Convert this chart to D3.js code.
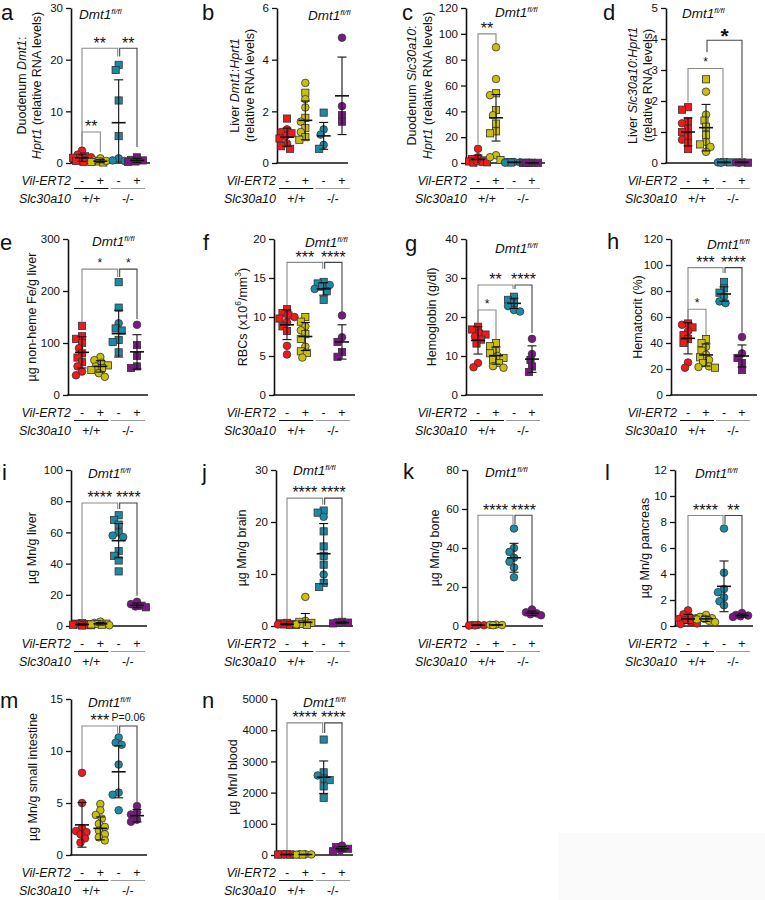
<!DOCTYPE html>
<html><head><meta charset="utf-8">
<script src="https://cdn.jsdelivr.net/npm/d3@7"></script>
<style>
body{margin:0;background:#fff}
svg{display:block}
text{font-family:"Liberation Sans",Arial,Helvetica,sans-serif;fill:#111}
</style>
</head><body>
<svg id="fig" width="765" height="900"></svg>
<script>
// ---------- shared categories ----------
const groups = ["Slc+/+ Vil-", "Slc+/+ Vil+", "Slc-/- Vil-", "Slc-/- Vil+"];
const vilLabels = ["-", "+", "-", "+"];
const slcLabels = ["+/+", "-/-"];

// ---------- data (values, shapes c=circle s=square, mean, SD, brackets [from,to,top,dropFrom,dropTo,label]) ----------
const aVals = [[2.4,1.6,1.3,1.0,0.8,0.6,0.4,0.2,1.1],[0.9,0.5,0.3,0.2,0.1,0.4],[19.0,18.0,12.1,5.2,0.9,0.5,0.4],[1.1,0.6,0.3,0.2,0.5]];
const aShp = ["ccsscsssc","ccsssc","ssssccc","sssss"];
const aMean = [1.0,0.35,7.8,0.5], aSD = [0.7,0.3,8.3,0.4];
const aBr = [[0,1,6.0,3.1,2.1,"**"],[0,2,22.2,3.5,20.6,"**"],[2,3,22.2,20.6,3.1,"**"]];

const bVals = [[1.72,1.3,1.2,1.05,0.95,0.75,0.65,0.55,1.15],[3.1,2.72,2.47,2.15,1.75,1.6,1.35,1.2,1.0,0.9],[1.95,1.3,1.1,0.7,0.55],[4.85,2.2,1.85,1.6]];
const bShp = ["scccscsss","csccscscss","scccs","ccss"];
const bMean = [1.0,1.65,1.05,2.6], bSD = [0.35,0.75,0.52,1.5];
const bBr = [];

const cVals = [[11,4.5,3,2,1.2,0.8,0.5,0.3,1.5],[89.6,65,54,52.5,41,37,30.5,24.5,23,6,4.5,2.3],[0.8,0.6,0.5,0.4,0.3],[0.2,0.15,0.1,0.12,0.2]];
const cShp = ["ccssscssc","ccscscsssccs","cscsc","sssss"];
const cMean = [2.7,35,0.5,0.15], cSD = [3.4,18,0.2,0.05];
const cBr = [[0,1,100,15,90,"**"]];

const dVals = [[1.8,1.72,1.35,1.28,1.1,1.0,0.85,0.75,0.65,0.45],[2.7,2.3,1.56,1.37,1.17,0.9,0.68,0.52,0.36,0.6],[0.03,0.02,0.02,0.01],[0.02,0.02,0.01,0.01]];
const dShp = ["ssscssscss","sccssscccs","scsc","scsc"];
const dMean = [1.0,1.14,0.02,0.02], dSD = [0.45,0.75,0.01,0.01];
const dBr = [[0,2,3.05,1.95,0.16,"*"],[1,3,3.96,3.57,0.16,"*"]];

const eVals = [[133,113,108,100,90,80,72,63,55,45,38],[73,67,62,57,55,52,48,42,35],[217,168,138,128,124,106,102,82],[135,96,75,55,52]];
const eShp = ["sssscsssccc","cccscsscc","sscsssss","cssss"];
const eMean = [82,55,118,83], eSD = [30,11,45,33];
const eBr = [[0,2,242,138,227,"*"],[2,3,242,227,146,"*"]];

const fVals = [[11,10.5,10.2,9.8,9.3,8.8,8.2,6.3,5.2,10],[10,9.4,8.8,8.3,7.8,7.2,6.2,5.6,5.4,4.8],[14.5,14.3,14.1,13.9,13.6,13.3,12.2],[10.2,7.4,6.8,5.5,4.9]];
const fShp = ["sssscssccc","ssccsscssc","sscscss","ccsss"];
const fMean = [9.0,7.5,13.6,6.8], fSD = [1.9,1.8,0.8,2.2];
const fBr = [[0,2,17.0,11.4,16.2,"***"],[2,3,17.0,16.2,10.6,"****"]];

const gVals = [[17.5,16.8,16,15.5,15,14.2,13.2,8.2,7.1],[13.3,12.5,11.5,10.7,10,9.5,9,8.2,7.4,7],[25.2,24.4,23.5,22.8,21.8,21.4],[14.4,10.5,9,7.3,5.9]];
const gShp = ["sscscsscc","sscscssscc","sssccc","ccsss"];
const gMean = [14.0,10.1,23.5,9.2], gSD = [3.5,2.2,1.3,3.4];
const gBr = [[0,1,21.8,18.5,14.1,"*"],[0,2,28.2,18.5,27.2,"**"],[2,3,28.2,27.2,15.9,"****"]];

const hVals = [[55,54,52,49,46,43,40,25,21],[43,40,37,34,31,29,27,24.5,22,21,21.5],[87,82,78.7,75.7,72,70.7],[44.6,32,28.5,24.6,19.2]];
const hShp = ["scscssscc","sscscscscsc","sssccc","ccsss"];
const hMean = [43.6,30.8,77.7,30], hSD = [12,8.5,5.5,8.5];
const hBr = [[0,1,66,57.7,45.4,"*"],[0,2,98,57.7,93.8,"***"],[2,3,98,93.8,48,"****"]];

const iVals = [[1.8,1.5,1.2,1.0,0.8,0.7,0.5,0.3],[2.8,2.0,1.5,1.2,1.0,0.8,0.5],[71,68,65,60,58,57,48,45,42,35],[15.5,14,13,12.5,12]];
const iShp = ["ssssssss","ccssssc","ssssccssss","ccscs"];
const iMean = [1.0,1.4,54.7,13.2], iSD = [0.5,0.8,11,1.5];
const iBr = [[0,2,78.8,4.5,75,"****"],[2,3,78.8,75,19.4,"****"]];

const jVals = [[0.6,0.5,0.4,0.3,0.3,0.2,0.2],[5.6,1.0,0.8,0.6,0.4,0.3,0.2],[22.2,21.8,21,18.2,15.3,13.5,11.8,9.9,8.3,7.5],[0.8,0.7,0.65,0.6,0.5]];
const jShp = ["sssscss","ccssscs","sscsssscss","scsss"];
const jMean = [0.35,0.7,13.9,0.65], jSD = [0.15,1.7,5.8,0.12];
const jBr = [[0,2,24.6,1.0,23.3,"****"],[2,3,24.6,23.3,1.4,"****"]];

const kVals = [[0.6,0.5,0.4,0.3,0.2],[0.7,0.6,0.5,0.4],[50,40,38,35,33,30,25],[8.5,7,6.5,6,5.5]];
const kShp = ["ccccc","cccc","ccccccc","ccccc"];
const kMean = [0.4,0.55,35,6.5], kSD = [0.15,0.12,7.4,1.1];
const kBr = [[0,2,56.8,1.0,52.3,"****"],[2,3,56.8,52.3,10.3,"****"]];

const lVals = [[1.2,0.9,0.7,0.55,0.45,0.3,0.2,0.15,0.6],[0.85,0.7,0.6,0.5,0.4,0.3,0.55],[7.5,4.1,2.85,2.6,2.2,1.9,1.6],[1.0,0.85,0.8,0.75,0.7]];
const lShp = ["ccccccccc","ccccccc","ccccccc","ccccc"];
const lMean = [0.54,0.55,3.05,0.8], lSD = [0.35,0.2,1.95,0.12];
const lBr = [[0,2,8.5,1.3,7.85,"****"],[2,3,8.5,7.85,1.23,"**"]];

const mVals = [[7.9,5.0,2.6,2.3,2.2,2.0,1.6,1.2],[4.9,4.3,3.85,3.5,3.0,2.7,2.35,2.0,1.7,1.4],[11.3,10.8,10.6,8.7,6.0,5.8,4.3],[4.7,4.1,3.9,3.4,3.2]];
const mShp = ["cccccccc","cccccccccc","ccccccc","ccccc"];
const mMean = [2.9,2.56,8.0,3.78], mSD = [2.15,1.1,2.5,0.6];
const mBr = [[0,2,12.4,8.3,11.7,"***"],[2,3,12.4,11.7,5.1,"P=0.06"]];

const nVals = [[25,20,15,10,18,12],[25,20,15,10,18],[3700,2650,2550,2450,2400,2200,1830],[300,250,200,150,120]];
const nShp = ["sscscs","ccscc","sscssss","csscs"];
const nMean = [15,15,2494,200], nSD = [5,5,520,70];
const nBr = [[0,2,4235,75,3913,"****"],[2,3,4235,3913,400,"****"]];

// ---------- axis ranges & ticks ----------
const yMax = {a:30,b:6,c:120,d:5,e:300,f:20,g:40,h:120,i:100,j:30,k:80,l:12,m:15,n:5000};
const yStep = {a:10,b:2,c:20,d:1,e:100,f:5,g:10,h:20,i:20,j:10,k:20,l:2,m:5,n:1000};

// ---------- titles ----------
const titles = {
  a:[[["Duodenum ",""],["Dmt1","i"],[":",""]],[["Hprt1","i"],[" (relative RNA levels)",""]]],
  b:[[["Liver ",""],["Dmt1","i"],[":",""],["Hprt1","i"]],[["(relative RNA levels)",""]]],
  c:[[["Duodenum ",""],["Slc30a10","i"],[":",""]],[["Hprt1","i"],[" (relative RNA levels)",""]]],
  d:[[["Liver ",""],["Slc30a10","i"],[":",""],["Hprt1","i"]],[["(relative RNA levels)",""]]],
  e:[[["µg non-heme Fe/g liver",""]]],
  f:[[["RBCs (x10",""],["6","s"],["/mm",""],["3","s"],[")",""]]],
  g:[[["Hemoglobin (g/dl)",""]]],
  h:[[["Hematocrit (%)",""]]],
  i:[[["µg Mn/g liver",""]]],
  j:[[["µg Mn/g brain",""]]],
  k:[[["µg Mn/g bone",""]]],
  l:[[["µg Mn/g pancreas",""]]],
  m:[[["µg Mn/g small intestine",""]]],
  n:[[["µg Mn/l blood",""]]]
};

// ---------- layout (positions / sizes) ----------
const colCats = [[82,137],[287,342],[478,532],[688,742]];
const rowY = [[163,8],[395,239],[626,470],[855,699]];
const layout = {
  a:{col:0,row:0,x0:71,xEnd:150,letter:[1,20],tOff:[-49,-34],dmt:[79,19]},
  b:{col:1,row:0,x0:277,xEnd:348,letter:[202,20],tOff:[-42,-27],dmt:[308,20]},
  c:{col:2,row:0,x0:466,xEnd:545,letter:[402,20],tOff:[-54,-38],dmt:[495,17]},
  d:{col:3,row:0,x0:666,xEnd:748,letter:[603,20],tOff:[-33,-18],dmt:[682,18]},
  e:{col:0,row:1,x0:68,xEnd:148,letter:[0,250],tOff:[-36],dmt:[92,246]},
  f:{col:1,row:1,x0:274,xEnd:355,letter:[203,250],tOff:[-31],dmt:[305,247]},
  g:{col:2,row:1,x0:466,xEnd:543,letter:[405,251],tOff:[-34],dmt:[495,253]},
  h:{col:3,row:1,x0:671,xEnd:757,letter:[607,249],tOff:[-33],dmt:[707,249]},
  i:{col:0,row:2,x0:71,xEnd:147,letter:[2,480],tOff:[-39],dmt:[88,478]},
  j:{col:1,row:2,x0:276,xEnd:353,letter:[202,480],tOff:[-34],dmt:[293,475]},
  k:{col:2,row:2,x0:467,xEnd:543,letter:[403,479],tOff:[-32],dmt:[485,477]},
  l:{col:3,row:2,x0:675,xEnd:753,letter:[605,480],tOff:[-30],dmt:[695,478]},
  m:{col:0,row:3,x0:71,xEnd:147,letter:[0,708],tOff:[-38],dmt:[88,707]},
  n:{col:1,row:3,x0:276,xEnd:353,letter:[202,708],tOff:[-43],dmt:[303,707]}
};
const panelData = {
  a:[aVals,aShp,aMean,aSD,aBr], b:[bVals,bShp,bMean,bSD,bBr], c:[cVals,cShp,cMean,cSD,cBr],
  d:[dVals,dShp,dMean,dSD,dBr], e:[eVals,eShp,eMean,eSD,eBr], f:[fVals,fShp,fMean,fSD,fBr],
  g:[gVals,gShp,gMean,gSD,gBr], h:[hVals,hShp,hMean,hSD,hBr], i:[iVals,iShp,iMean,iSD,iBr],
  j:[jVals,jShp,jMean,jSD,jBr], k:[kVals,kShp,kMean,kSD,kBr], l:[lVals,lShp,lMean,lSD,lBr],
  m:[mVals,mShp,mMean,mSD,mBr], n:[nVals,nShp,nMean,nSD,nBr]
};
const colors = ["#f2181b","#c9bf0c","#1b8aa6","#7c1886"];
const FONT = "Liberation Sans, Arial, Helvetica, sans-serif";

const svg = d3.select("#fig");
svg.append("rect").attr("x",558).attr("y",833).attr("width",207).attr("height",67).attr("fill","#fafafa");

function swarm(vals, y, r) {
  const order = vals.map((v,i)=>i).sort((p,q)=>vals[q]-vals[p]);
  const placed = [], off = new Array(vals.length).fill(0);
  const cands = [0];
  for (let k=1;k<=6;k++){ cands.push(-k*1.5, k*1.5); }
  const thr = 2*r*0.82;
  for (const i of order) {
    const py = y(vals[i]);
    let best = null, bestD = -1;
    for (const c of cands) {
      const md = placed.length ? d3.min(placed, p=>Math.hypot(p.x-c,p.y-py)) : 1e9;
      if (md >= thr) { best = c; bestD = md; break; }
      if (md > bestD) { bestD = md; best = c; }
    }
    off[i] = best;
    placed.push({x:best,y:py});
  }
  return off;
}

function addParts(textSel, parts, baseSize) {
  let shift = 0;
  parts.forEach(([t, st]) => {
    const ts = textSel.append("tspan").text(t);
    if (st === "i") ts.attr("font-style","italic");
    if (st === "s") { ts.attr("font-size", baseSize*0.68).attr("dy", -5); shift = 5; }
    else if (shift) { ts.attr("dy", shift); shift = 0; }
  });
}

Object.keys(layout).forEach(id => {
  const L = layout[id];
  const [vals, shp, mean, sd, br] = panelData[id];
  const [y0, yTop] = rowY[L.row];
  const g = svg.append("g");
  const y = d3.scaleLinear().domain([0, yMax[id]]).range([y0, yTop]);
  const x = d3.scalePoint().domain(groups).range(colCats[L.col]);

  // y axis
  const ax = d3.axisLeft(y)
    .tickValues(d3.range(0, yMax[id] + yStep[id]/2, yStep[id]))
    .tickSize(5).tickSizeOuter(0).tickPadding(3).tickFormat(d3.format("d"));
  const axg = g.append("g").attr("transform", `translate(${L.x0},0)`).call(ax)
    .attr("font-size", 11.5).attr("font-family", FONT);
  axg.select(".domain").attr("stroke","#111").attr("stroke-width",1.6);
  axg.selectAll(".tick line").attr("stroke","#111").attr("stroke-width",1.3);
  axg.selectAll(".tick text").attr("fill","#111");
  // x axis line
  g.append("line").attr("x1", L.x0-0.8).attr("x2", L.xEnd).attr("y1", y0).attr("y2", y0)
    .attr("stroke","#111").attr("stroke-width",1.6);

  // y title
  const cy = (y0 + yTop)/2;
  titles[id].forEach((line, k) => {
    const t = g.append("text").attr("transform", `translate(${L.x0 + L.tOff[k]},${cy}) rotate(-90)`)
      .attr("text-anchor","middle").attr("dominant-baseline","central").attr("font-size",12.5);
    addParts(t, line, 12.5);
  });

  // panel letter
  g.append("text").attr("x", L.letter[0]).attr("y", L.letter[1]).attr("font-size", 22).text(id);

  // Dmt1 fl/fl
  const dt = g.append("text").attr("x", L.dmt[0]).attr("y", L.dmt[1]).attr("font-size",13.5).attr("font-style","italic");
  dt.append("tspan").text("Dmt1");
  dt.append("tspan").attr("font-size",8).attr("dy",-5.5).text("fl/fl");

  // x labels
  const c0 = x(groups[0]);
  g.append("text").attr("x", c0-11).attr("y", y0+21.5).attr("text-anchor","end").attr("font-size",12.5)
    .attr("font-style","italic").text("Vil-ERT2");
  g.append("text").attr("x", c0-11).attr("y", y0+39.5).attr("text-anchor","end").attr("font-size",12.5)
    .attr("font-style","italic").text("Slc30a10");
  groups.forEach((gr, i) => {
    g.append("text").attr("x", x(gr)).attr("y", y0+21.5).attr("text-anchor","middle").attr("font-size",12.5).text(vilLabels[i]);
  });
  [[0,1,"#111"],[2,3,"#9a9a9a"]].forEach(([p,q,col], k) => {
    g.append("line").attr("x1", x(groups[p])-8).attr("x2", x(groups[q])+8)
      .attr("y1", y0+25.5).attr("y2", y0+25.5).attr("stroke", col).attr("stroke-width",1.1);
    g.append("text").attr("x", (x(groups[p])+x(groups[q]))/2).attr("y", y0+39.5)
      .attr("text-anchor","middle").attr("font-size",12.5).text(slcLabels[k]);
  });

  // brackets
  br.forEach(([p, q, top, dp, dq, lab]) => {
    const x1 = x(groups[p]) + (p > 0 ? 1 : 0);
    const x2 = x(groups[q]) - (q === 2 ? 1 : 0);
    const col = p === 0 ? "#8a8a8a" : "#444";
    g.append("path").attr("d", `M${x1},${y(dp)}V${y(top)}H${x2}V${y(dq)}`)
      .attr("fill","none").attr("stroke",col).attr("stroke-width",1.1);
    const cx = (x1 + x2)/2;
    if (lab.startsWith("P")) {
      g.append("text").attr("x", cx).attr("y", y(top)-5).attr("text-anchor","middle")
        .attr("font-size",10.5).attr("fill","#333").text(lab);
    } else {
      const big = (id === "d" && p === 1);
      const fs = big ? 21 : (lab.length === 1 ? 12 : 16);
      g.append("text").attr("x", cx).attr("y", y(top) - 9 + 0.58*fs).attr("text-anchor","middle")
        .attr("font-size", fs).attr("font-weight", big ? "bold" : "normal").text(lab);
    }
  });

  // points
  const r = 3.6;
  vals.forEach((arr, gi) => {
    const off = swarm(arr, y, r);
    const cx = x(groups[gi]);
    arr.forEach((v, k) => {
      const px = cx + off[k], py = y(v);
      if (shp[gi][k] === "s") {
        g.append("rect").attr("x", px-r).attr("y", py-r).attr("width", 2*r).attr("height", 2*r)
          .attr("fill", colors[gi]).attr("stroke","#333").attr("stroke-width",0.8);
      } else {
        g.append("circle").attr("cx", px).attr("cy", py).attr("r", r+0.2)
          .attr("fill", colors[gi]).attr("stroke","#333").attr("stroke-width",0.8);
      }
    });
  });

  // mean & SD
  mean.forEach((mv, gi) => {
    const cx = x(groups[gi]);
    const lo = Math.max(0, mv - sd[gi]), hi = mv + sd[gi];
    const col = "#111";
    g.append("line").attr("x1",cx).attr("x2",cx).attr("y1",y(lo)).attr("y2",y(hi)).attr("stroke",col).attr("stroke-width",1.1);
    g.append("line").attr("x1",cx-4.5).attr("x2",cx+4.5).attr("y1",y(hi)).attr("y2",y(hi)).attr("stroke",col).attr("stroke-width",1.1);
    if (mv - sd[gi] > 0) g.append("line").attr("x1",cx-4.5).attr("x2",cx+4.5).attr("y1",y(lo)).attr("y2",y(lo)).attr("stroke",col).attr("stroke-width",1.1);
    g.append("line").attr("x1",cx-7).attr("x2",cx+7).attr("y1",y(mv)).attr("y2",y(mv)).attr("stroke",col).attr("stroke-width",1.6);
  });
});
</script>
</body></html>
